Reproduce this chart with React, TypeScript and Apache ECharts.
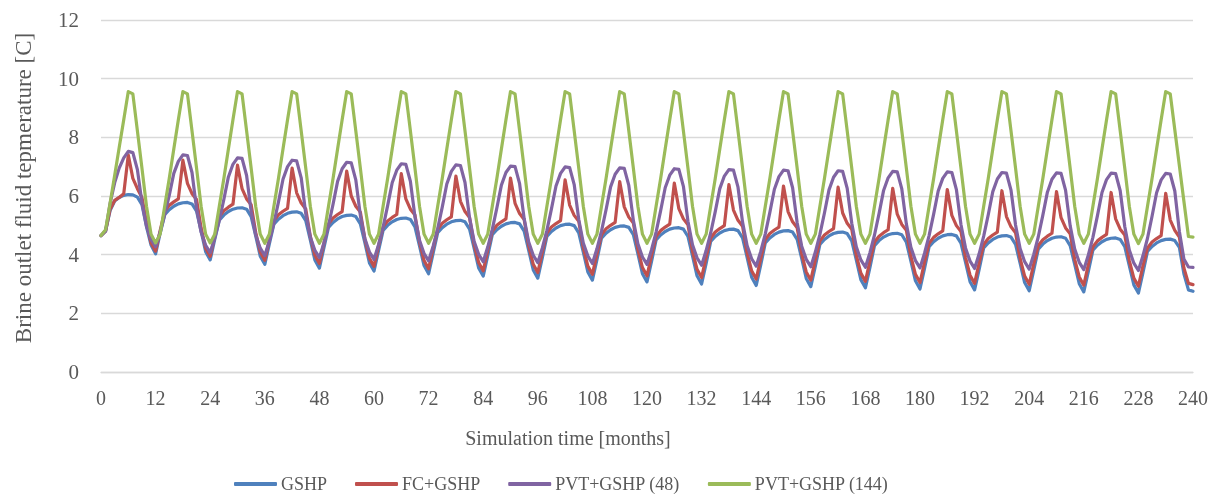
import React, { useEffect, useRef } from "react";
import * as echarts from "echarts";

// Monthly values, one row per simulated year (12 months), plus the final month 240.
const gshpRows: number[][] = [
  [4.65, 4.80, 5.50, 5.83, 5.95, 6.02, 6.05, 6.04, 5.96, 5.70, 4.95, 4.33],
  [4.03, 4.73, 5.36, 5.53, 5.65, 5.73, 5.77, 5.78, 5.73, 5.48, 4.80, 4.10],
  [3.82, 4.52, 5.18, 5.35, 5.47, 5.55, 5.59, 5.60, 5.55, 5.30, 4.64, 3.95],
  [3.67, 4.37, 5.04, 5.21, 5.33, 5.41, 5.45, 5.46, 5.41, 5.16, 4.50, 3.82],
  [3.54, 4.24, 4.93, 5.10, 5.22, 5.30, 5.34, 5.35, 5.30, 5.05, 4.40, 3.72],
  [3.44, 4.14, 4.83, 5.00, 5.12, 5.20, 5.24, 5.25, 5.20, 4.95, 4.30, 3.63],
  [3.35, 4.05, 4.75, 4.92, 5.04, 5.12, 5.16, 5.17, 5.12, 4.87, 4.22, 3.55],
  [3.27, 3.97, 4.68, 4.85, 4.97, 5.05, 5.09, 5.10, 5.05, 4.80, 4.15, 3.48],
  [3.20, 3.90, 4.62, 4.79, 4.91, 4.99, 5.03, 5.04, 4.99, 4.74, 4.09, 3.41],
  [3.13, 3.83, 4.56, 4.73, 4.85, 4.93, 4.97, 4.98, 4.93, 4.68, 4.03, 3.35],
  [3.07, 3.77, 4.50, 4.67, 4.79, 4.87, 4.91, 4.92, 4.87, 4.62, 3.96, 3.28],
  [3.00, 3.70, 4.45, 4.62, 4.74, 4.82, 4.86, 4.87, 4.82, 4.57, 3.91, 3.23],
  [2.95, 3.65, 4.40, 4.57, 4.69, 4.77, 4.81, 4.82, 4.77, 4.52, 3.87, 3.19],
  [2.91, 3.61, 4.35, 4.52, 4.64, 4.72, 4.76, 4.77, 4.72, 4.47, 3.82, 3.15],
  [2.87, 3.57, 4.31, 4.48, 4.60, 4.68, 4.72, 4.73, 4.68, 4.43, 3.78, 3.11],
  [2.83, 3.53, 4.27, 4.44, 4.56, 4.64, 4.68, 4.69, 4.64, 4.39, 3.75, 3.08],
  [2.80, 3.50, 4.23, 4.40, 4.52, 4.60, 4.64, 4.65, 4.60, 4.35, 3.71, 3.05],
  [2.77, 3.47, 4.19, 4.36, 4.48, 4.56, 4.60, 4.61, 4.56, 4.31, 3.67, 3.01],
  [2.73, 3.43, 4.15, 4.32, 4.44, 4.52, 4.56, 4.57, 4.52, 4.27, 3.63, 2.97],
  [2.69, 3.39, 4.11, 4.28, 4.40, 4.48, 4.52, 4.53, 4.48, 4.25, 3.35, 2.80],
];
const gshpEnd = 2.75;

const fcRows: number[][] = [
  [4.65, 4.80, 5.55, 5.85, 5.95, 6.08, 7.40, 6.60, 6.25, 5.95, 5.10, 4.40],
  [4.12, 4.82, 5.48, 5.68, 5.80, 5.90, 7.22, 6.43, 6.08, 5.88, 4.91, 4.22],
  [3.94, 4.64, 5.30, 5.50, 5.62, 5.72, 7.05, 6.25, 5.90, 5.70, 4.76, 4.09],
  [3.81, 4.51, 5.16, 5.36, 5.48, 5.58, 6.95, 6.11, 5.76, 5.56, 4.63, 3.98],
  [3.70, 4.40, 5.05, 5.25, 5.37, 5.47, 6.85, 6.00, 5.65, 5.45, 4.53, 3.88],
  [3.60, 4.30, 4.95, 5.15, 5.27, 5.37, 6.76, 5.90, 5.55, 5.35, 4.44, 3.80],
  [3.52, 4.22, 4.87, 5.07, 5.19, 5.29, 6.68, 5.82, 5.47, 5.27, 4.36, 3.73],
  [3.45, 4.15, 4.80, 5.00, 5.12, 5.22, 6.61, 5.75, 5.40, 5.20, 4.30, 3.67],
  [3.39, 4.09, 4.74, 4.94, 5.06, 5.16, 6.55, 5.69, 5.34, 5.14, 4.24, 3.61],
  [3.33, 4.03, 4.68, 4.88, 5.00, 5.10, 6.49, 5.63, 5.28, 5.08, 4.18, 3.56],
  [3.28, 3.98, 4.62, 4.82, 4.94, 5.04, 6.44, 5.57, 5.22, 5.02, 4.12, 3.50],
  [3.22, 3.92, 4.57, 4.77, 4.89, 4.99, 6.39, 5.52, 5.17, 4.97, 4.07, 3.45],
  [3.17, 3.87, 4.52, 4.72, 4.84, 4.94, 6.34, 5.47, 5.12, 4.92, 4.03, 3.41],
  [3.13, 3.83, 4.47, 4.67, 4.79, 4.89, 6.30, 5.42, 5.07, 4.87, 3.98, 3.37],
  [3.09, 3.79, 4.43, 4.63, 4.75, 4.85, 6.26, 5.38, 5.03, 4.83, 3.94, 3.33],
  [3.05, 3.75, 4.39, 4.59, 4.71, 4.81, 6.22, 5.34, 4.99, 4.79, 3.91, 3.30],
  [3.02, 3.72, 4.35, 4.55, 4.67, 4.77, 6.18, 5.30, 4.95, 4.75, 3.87, 3.27],
  [2.99, 3.69, 4.31, 4.51, 4.63, 4.73, 6.15, 5.26, 4.91, 4.71, 3.84, 3.24],
  [2.96, 3.66, 4.27, 4.47, 4.59, 4.69, 6.12, 5.22, 4.87, 4.67, 3.80, 3.20],
  [2.92, 3.62, 4.23, 4.43, 4.55, 4.65, 6.09, 5.18, 4.83, 4.60, 3.55, 3.02],
];
const fcEnd = 2.98;

const pvt48Rows: number[][] = [
  [4.65, 4.80, 5.75, 6.45, 6.95, 7.30, 7.52, 7.48, 6.90, 5.77, 4.97, 4.52],
  [4.27, 4.77, 5.37, 6.02, 6.77, 7.18, 7.40, 7.38, 6.80, 5.57, 4.77, 4.32],
  [4.07, 4.57, 5.17, 5.88, 6.65, 7.08, 7.30, 7.28, 6.70, 5.47, 4.67, 4.22],
  [3.97, 4.47, 5.07, 5.79, 6.57, 7.00, 7.22, 7.20, 6.62, 5.40, 4.60, 4.15],
  [3.90, 4.40, 5.00, 5.72, 6.50, 6.93, 7.15, 7.13, 6.55, 5.34, 4.54, 4.09],
  [3.84, 4.34, 4.94, 5.67, 6.45, 6.88, 7.10, 7.08, 6.50, 5.29, 4.49, 4.04],
  [3.79, 4.29, 4.89, 5.62, 6.41, 6.84, 7.06, 7.04, 6.46, 5.26, 4.46, 4.01],
  [3.76, 4.26, 4.86, 5.59, 6.37, 6.80, 7.02, 7.00, 6.42, 5.23, 4.43, 3.98],
  [3.73, 4.23, 4.83, 5.56, 6.34, 6.77, 6.99, 6.97, 6.39, 5.20, 4.40, 3.95],
  [3.70, 4.20, 4.80, 5.53, 6.31, 6.74, 6.96, 6.94, 6.36, 5.17, 4.37, 3.92],
  [3.67, 4.17, 4.77, 5.50, 6.28, 6.71, 6.93, 6.91, 6.33, 5.14, 4.34, 3.89],
  [3.64, 4.14, 4.74, 5.47, 6.25, 6.68, 6.90, 6.88, 6.30, 5.11, 4.31, 3.86],
  [3.61, 4.11, 4.71, 5.44, 6.23, 6.66, 6.88, 6.86, 6.28, 5.09, 4.29, 3.84],
  [3.59, 4.09, 4.69, 5.42, 6.21, 6.64, 6.86, 6.84, 6.26, 5.07, 4.27, 3.82],
  [3.57, 4.07, 4.67, 5.40, 6.19, 6.62, 6.84, 6.82, 6.24, 5.05, 4.25, 3.80],
  [3.55, 4.05, 4.65, 5.38, 6.17, 6.60, 6.82, 6.80, 6.22, 5.03, 4.23, 3.78],
  [3.53, 4.03, 4.63, 5.36, 6.15, 6.58, 6.80, 6.78, 6.20, 5.01, 4.21, 3.76],
  [3.51, 4.01, 4.61, 5.35, 6.13, 6.57, 6.79, 6.77, 6.19, 4.99, 4.19, 3.74],
  [3.49, 3.99, 4.59, 5.33, 6.12, 6.56, 6.78, 6.76, 6.18, 4.96, 4.16, 3.71],
  [3.46, 3.96, 4.56, 5.31, 6.11, 6.55, 6.77, 6.75, 6.17, 4.80, 3.85, 3.58],
];
const pvt48End = 3.57;

const pvt144Rows: number[][] = [
  [4.65, 4.85, 5.75, 6.70, 7.65, 8.60, 9.56, 9.48, 8.22, 6.95, 5.65, 4.70],
  [4.40, 4.70, 5.65, 6.60, 7.60, 8.60, 9.56, 9.48, 8.22, 6.95, 5.65, 4.70],
  [4.40, 4.70, 5.65, 6.60, 7.60, 8.60, 9.56, 9.48, 8.22, 6.95, 5.65, 4.70],
  [4.39, 4.70, 5.65, 6.60, 7.60, 8.60, 9.56, 9.48, 8.22, 6.95, 5.65, 4.70],
  [4.39, 4.70, 5.65, 6.60, 7.60, 8.60, 9.56, 9.48, 8.22, 6.95, 5.65, 4.70],
  [4.39, 4.70, 5.65, 6.60, 7.60, 8.60, 9.56, 9.48, 8.22, 6.95, 5.65, 4.70],
  [4.39, 4.70, 5.65, 6.60, 7.60, 8.60, 9.56, 9.48, 8.22, 6.95, 5.65, 4.70],
  [4.39, 4.70, 5.65, 6.60, 7.60, 8.60, 9.56, 9.48, 8.22, 6.95, 5.65, 4.70],
  [4.39, 4.70, 5.65, 6.60, 7.60, 8.60, 9.56, 9.48, 8.22, 6.95, 5.65, 4.70],
  [4.39, 4.70, 5.65, 6.60, 7.60, 8.60, 9.56, 9.48, 8.22, 6.95, 5.65, 4.70],
  [4.39, 4.70, 5.65, 6.60, 7.60, 8.60, 9.56, 9.48, 8.22, 6.95, 5.65, 4.70],
  [4.39, 4.70, 5.65, 6.60, 7.60, 8.60, 9.56, 9.48, 8.22, 6.95, 5.65, 4.70],
  [4.39, 4.70, 5.65, 6.60, 7.60, 8.60, 9.56, 9.48, 8.22, 6.95, 5.65, 4.70],
  [4.39, 4.70, 5.65, 6.60, 7.60, 8.60, 9.56, 9.48, 8.22, 6.95, 5.65, 4.70],
  [4.39, 4.70, 5.65, 6.60, 7.60, 8.60, 9.56, 9.48, 8.22, 6.95, 5.65, 4.70],
  [4.39, 4.70, 5.65, 6.60, 7.60, 8.60, 9.56, 9.48, 8.22, 6.95, 5.65, 4.70],
  [4.39, 4.70, 5.65, 6.60, 7.60, 8.60, 9.56, 9.48, 8.22, 6.95, 5.65, 4.70],
  [4.39, 4.70, 5.65, 6.60, 7.60, 8.60, 9.56, 9.48, 8.22, 6.95, 5.65, 4.70],
  [4.39, 4.70, 5.65, 6.60, 7.60, 8.60, 9.56, 9.48, 8.22, 6.95, 5.65, 4.70],
  [4.38, 4.70, 5.65, 6.60, 7.60, 8.60, 9.56, 9.48, 8.26, 7.04, 5.82, 4.62],
];
const pvt144End = 4.60;

const seriesNames = ["GSHP", "FC+GSHP", "PVT+GSHP (48)", "PVT+GSHP (144)"];
const seriesColors = ["#4f81bd", "#c0504d", "#8064a2", "#9bbb59"];

const xMin = 0;
const xMax = 240;
const xStep = 12;
const yMin = 0;
const yMax = 12;
const yStep = 2;

const xTitle = "Simulation time [months]";
const yTitle = "Brine outlet fluid tepmerature [C]";

const FONT = "'Liberation Serif', 'Times New Roman', serif";
const TEXT = "#595959";
const GRID = "#d9d9d9";

function toPoints(rows: number[][], end: number): number[][] {
  const flat = rows.reduce((acc: number[], r) => acc.concat(r), []);
  flat.push(end);
  return flat.map((v, i) => [i, v]);
}

export default function App() {
  const ref = useRef<HTMLDivElement>(null);

  useEffect(() => {
    if (!ref.current) return;
    const chart = echarts.init(ref.current, undefined, { renderer: "svg" });
    const datasets = [
      toPoints(gshpRows, gshpEnd),
      toPoints(fcRows, fcEnd),
      toPoints(pvt48Rows, pvt48End),
      toPoints(pvt144Rows, pvt144End),
    ];
    chart.setOption({
      animation: false,
      textStyle: { fontFamily: FONT, color: TEXT },
      grid: { left: 101, right: 26, top: 20, bottom: 124, containLabel: false },
      xAxis: {
        type: "value",
        min: xMin,
        max: xMax,
        interval: xStep,
        axisLine: { show: true, lineStyle: { color: GRID, width: 1.3 } },
        axisTick: { show: false },
        splitLine: { show: false },
        axisLabel: { fontSize: 20, color: TEXT, fontFamily: FONT, margin: 16 },
      },
      yAxis: {
        type: "value",
        min: yMin,
        max: yMax,
        interval: yStep,
        axisLine: { show: false },
        axisTick: { show: false },
        splitLine: { show: true, lineStyle: { color: GRID, width: 1.3 } },
        axisLabel: { fontSize: 21, color: TEXT, fontFamily: FONT, margin: 22 },
      },
      legend: {
        left: 229,
        top: 470,
        itemGap: 28,
        itemWidth: 43,
        itemHeight: 4,
        icon: "roundRect",
        textStyle: { fontSize: 18, color: TEXT, fontFamily: FONT, padding: [0, 0, 0, -1] },
        data: seriesNames,
      },
      graphic: [
        {
          type: "text",
          x: 568,
          y: 438,
          style: {
            text: xTitle,
            fontSize: 20,
            fontFamily: FONT,
            fill: TEXT,
            align: "center",
            verticalAlign: "middle",
          },
        },
        {
          type: "text",
          x: 23,
          y: 188,
          rotation: Math.PI / 2,
          style: {
            text: yTitle,
            fontSize: 23,
            fontFamily: FONT,
            fill: TEXT,
            align: "center",
            verticalAlign: "middle",
          },
        },
      ],
      series: datasets.map((d, i) => ({
        name: seriesNames[i],
        type: "line",
        data: d,
        symbol: "none",
        showSymbol: false,
        smooth: false,
        color: seriesColors[i],
        lineStyle: { width: 3.2, color: seriesColors[i], join: "round", cap: "round" },
        emphasis: { disabled: true },
      })),
    });
    return () => chart.dispose();
  }, []);

  return (
    <div
      ref={ref}
      style={{ position: "fixed", left: 0, top: 0, width: 1219, height: 496 }}
    />
  );
}
